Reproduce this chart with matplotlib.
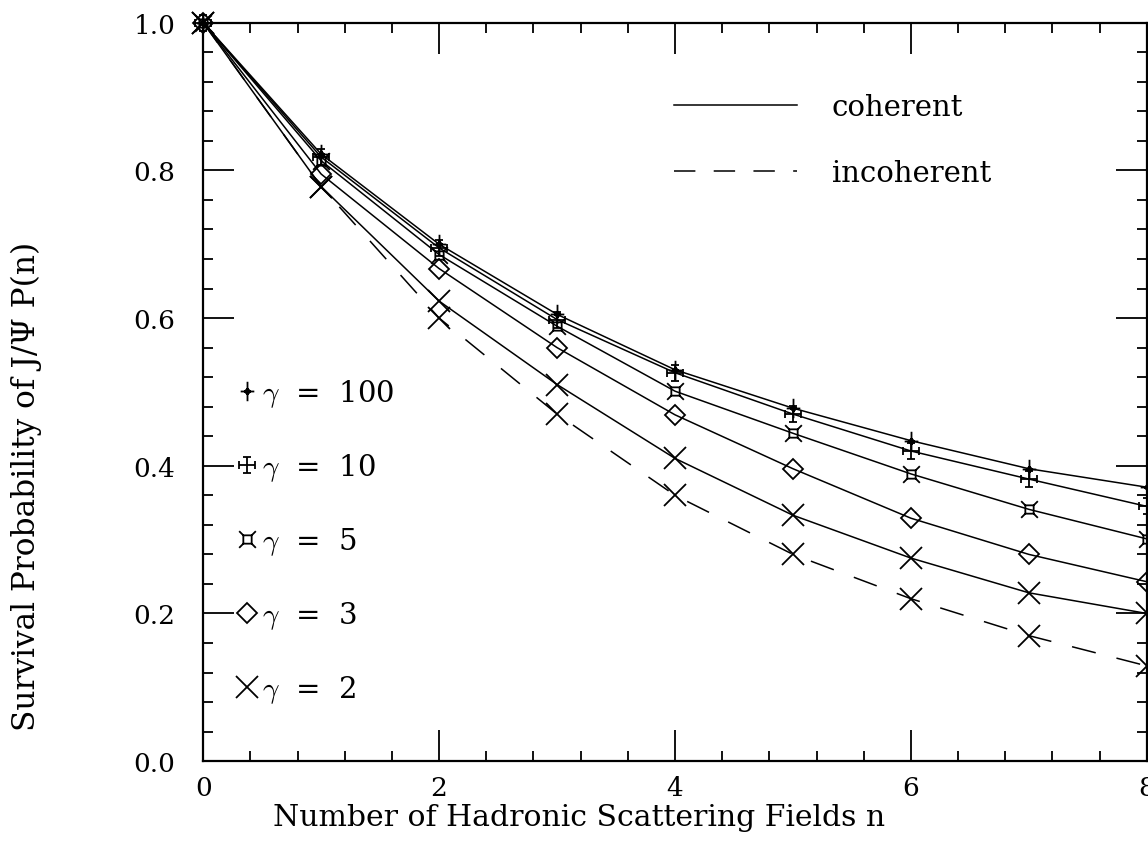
import matplotlib
matplotlib.use("Agg")
import matplotlib.pyplot as plt
from matplotlib.path import Path
from matplotlib.lines import Line2D

# data
n = [0, 1, 2, 3, 4, 5, 6, 7, 8]
p_g100 = [1.0, 0.822, 0.700, 0.605, 0.530, 0.478, 0.434, 0.396, 0.371]
p_g10 = [1.0, 0.818, 0.695, 0.598, 0.526, 0.470, 0.420, 0.382, 0.345]
p_g5 = [1.0, 0.813, 0.686, 0.589, 0.501, 0.444, 0.389, 0.341, 0.301]
p_g3 = [1.0, 0.795, 0.667, 0.560, 0.469, 0.396, 0.329, 0.280, 0.243]
p_g2 = [1.0, 0.778, 0.623, 0.510, 0.410, 0.333, 0.275, 0.228, 0.200]
p_incoh = [1.0, 0.778, 0.600, 0.470, 0.360, 0.280, 0.220, 0.170, 0.129]
gamma_labels = ["100", "10", "5", "3", "2"]

plt.rcParams["font.family"] = "DejaVu Serif"
plt.rcParams["mathtext.fontset"] = "cm"
plt.rcParams["font.size"] = 19


def seg_marker(segs):
    verts, codes = [], []
    for (a, b) in segs:
        verts += [a, b]
        codes += [Path.MOVETO, Path.LINETO]
    return Path(verts, codes)


# marker shapes
m_plus = seg_marker([((0, -1), (0, 1)), ((-0.7, 0), (0.7, 0)),
                     ((0, 0.3), (0.3, 0)), ((0.3, 0), (0, -0.3)),
                     ((0, -0.3), (-0.3, 0)), ((-0.3, 0), (0, 0.3))])
m_cross = seg_marker([((0, -1), (0, 1)), ((-1, 0), (1, 0)),
                      ((-0.5, 1), (0.5, 1)), ((-0.5, -1), (0.5, -1)),
                      ((-1, -0.5), (-1, 0.5)), ((1, -0.5), (1, 0.5))])
m_box = seg_marker([((-0.5, -0.5), (0.5, -0.5)), ((0.5, -0.5), (0.5, 0.5)),
                    ((0.5, 0.5), (-0.5, 0.5)), ((-0.5, 0.5), (-0.5, -0.5)),
                    ((0.5, 0.5), (1, 1)), ((-0.5, 0.5), (-1, 1)),
                    ((0.5, -0.5), (1, -1)), ((-0.5, -0.5), (-1, -1))])

fig = plt.figure(figsize=(11.48, 8.45), dpi=100)
ax = fig.add_axes([0.177, 0.098, 0.822, 0.874])

series = [(p_g100, m_plus, 14), (p_g10, m_cross, 12), (p_g5, m_box, 12),
          (p_g3, "D", 10), (p_g2, "x", 16)]
for vals, mk, ms in series:
    ax.plot(n, vals, color="black", lw=1.1, marker=mk, ms=ms,
            mfc="none", mec="black", mew=1.3, clip_on=False)

ax.plot(n, p_incoh, color="black", lw=1.1, dashes=(16, 14), marker="x",
        ms=16, mew=1.3, clip_on=False)

ax.set_xlim(0, 8)
ax.set_ylim(0, 1)
ax.set_xticks([0, 2, 4, 6, 8])
ax.set_yticks([0, 0.2, 0.4, 0.6, 0.8, 1.0])
ax.set_yticklabels(["0.0", "0.2", "0.4", "0.6", "0.8", "1.0"])
ax.set_xticks([x * 0.4 for x in range(21)], minor=True)
ax.set_yticks([y * 0.04 for y in range(26)], minor=True)
ax.tick_params(which="both", direction="in", top=True, right=True, width=1.3)
ax.tick_params(which="major", length=22)
ax.tick_params(axis="y", which="major", pad=20)
ax.tick_params(axis="x", which="major", pad=10)
ax.tick_params(which="minor", length=7)
for s in ax.spines.values():
    s.set_linewidth(1.6)

ax.set_xlabel("Number of Hadronic Scattering Fields n", fontsize=21.5)
ax.set_ylabel("Survival Probability of J/\u03a8 P(n)", fontsize=22.5)
ax.xaxis.set_label_coords(0.398, -0.056)
ax.yaxis.set_label_coords(-0.171, 0.374)

# gamma legend on the left
h1 = [Line2D([], [], ls="none", marker=mk, ms=ms, mfc="none", mec="black", mew=1.3)
      for vals, mk, ms in series]
lab1 = [r"$\gamma$  =  " + g for g in gamma_labels]
leg1 = ax.legend(h1, lab1, loc="upper left", bbox_to_anchor=(0.022, 0.536),
                 frameon=False, handlelength=0.8, handletextpad=0.1,
                 labelspacing=1.44, borderaxespad=0, fontsize=21)
ax.add_artist(leg1)

# line style legend upper right
h2 = [Line2D([], [], color="black", lw=1.1),
      Line2D([], [], color="black", lw=1.1, dashes=(14, 12))]
ax.legend(h2, ["coherent", "incoherent"], loc="upper left",
          bbox_to_anchor=(0.487, 0.92), frameon=False, handlelength=4.2,
          handletextpad=1.2, labelspacing=1.28, borderaxespad=0, fontsize=21)

fig.savefig("out.png", dpi=100)
